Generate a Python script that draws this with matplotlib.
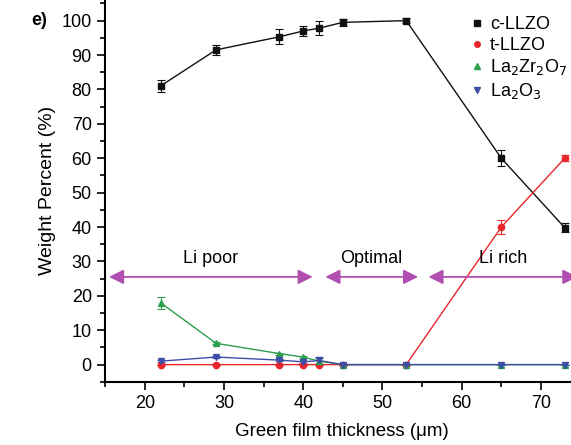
import matplotlib.pyplot as plt
from matplotlib.lines import Line2D
from matplotlib.ticker import MultipleLocator

plt.rcParams['font.family'] = ['Liberation Sans', 'DejaVu Sans']

# datos
espesor = [22, 29, 37, 40, 42, 45, 53, 65, 73]
c_llzo = [81.0, 91.5, 95.3, 97.0, 97.8, 99.5, 100.0, 60.0, 39.8]
c_llzo_err = [1.8, 1.4, 2.2, 1.5, 2.0, 1.0, 0.8, 2.4, 1.3]
t_llzo = [0, 0, 0, 0, 0, 0, 0, 40.0, 60.0]
t_llzo_err = [0, 0, 0, 0, 0, 0, 0, 2.0, 0.8]
la2zr2o7 = [18.0, 6.2, 3.2, 2.2, 1.0, 0, 0, 0, 0]
la2zr2o7_err = [1.8, 0.3, 0.3, 0.3, 0.8, 0, 0, 0, 0]
la2o3 = [1.0, 2.2, 1.3, 0.8, 1.2, 0, 0, 0, 0]
la2o3_err = [0.3, 0.4, 0.3, 0.3, 0.9, 0, 0, 0, 0]

regiones = ['Li poor', 'Optimal', 'Li rich']
region_lim = [(15.5, 41.2), (42.8, 54.5), (55.8, 74.6)]
region_y = 25.5

fig = plt.figure(figsize=(5.71, 4.45), dpi=100)
ax = fig.add_axes([0.184, 0.142, 0.83, 0.858])

series = [
    (c_llzo, c_llzo_err, '#111111', 's', 'c-LLZO'),
    (t_llzo, t_llzo_err, '#e8262b', 'o', 't-LLZO'),
    (la2zr2o7, la2zr2o7_err, '#2e9e4f', '^', 'La$_2$Zr$_2$O$_7$'),
    (la2o3, la2o3_err, '#3d4ea6', 'v', 'La$_2$O$_3$'),
]
handles = []
for vals, errs, col, mk, lab in series:
    ax.errorbar(espesor, vals, yerr=errs, color=col, marker=mk, markersize=4.5,
                linewidth=1.0, elinewidth=0.8, capsize=3, capthick=0.8)
    handles.append(Line2D([], [], color=col, marker=mk, markersize=4, linestyle='', label=lab))

for nombre, (x0, x1) in zip(regiones, region_lim):
    ax.annotate('', xy=(x0, region_y), xytext=(x1, region_y),
                arrowprops=dict(arrowstyle='<|-|>', color='#b04fb0', lw=1.3,
                                mutation_scale=22, shrinkA=0, shrinkB=0))
    ax.text((x0 + x1) / 2, region_y + 3, nombre, ha='center', va='bottom', fontsize=13)

ax.set_xlim(15, 74.8)
ax.set_ylim(-5, 106)
ax.xaxis.set_major_locator(MultipleLocator(10))
ax.xaxis.set_minor_locator(MultipleLocator(5))
ax.yaxis.set_major_locator(MultipleLocator(10))
ax.yaxis.set_minor_locator(MultipleLocator(5))
ax.tick_params(which='major', direction='out', length=6, width=1.2, labelsize=13)
ax.tick_params(which='minor', direction='out', length=3.5, width=1.2)
ax.set_yticks(range(0, 101, 10))
for s in ['top', 'right']:
    ax.spines[s].set_visible(False)
for s in ['left', 'bottom']:
    ax.spines[s].set_linewidth(1.5)

ax.set_xlabel('Green film thickness (\u03bcm)', fontsize=13.5, labelpad=8)
ax.set_ylabel('Weight Percent (%)', fontsize=14)

ax.legend(handles=handles, loc='upper right', bbox_to_anchor=(1.01, 1.0), frameon=False,
          fontsize=13, handlelength=0.6, handletextpad=0.4, labelspacing=0.2)

fig.text(0.055, 0.955, 'e)', fontsize=13, fontweight='bold', ha='left', va='center')

fig.savefig('out.png', dpi=100)
